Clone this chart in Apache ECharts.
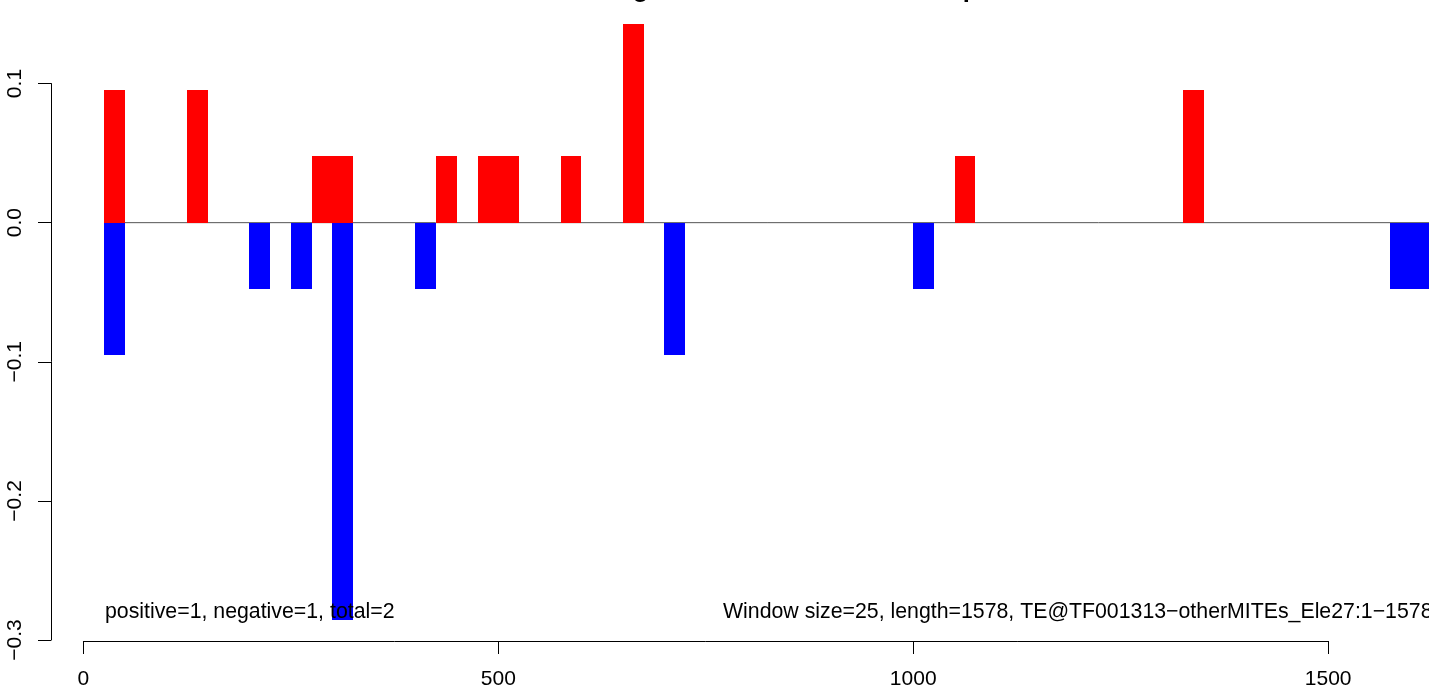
<!DOCTYPE html>
<html>
<head>
<meta charset="utf-8">
<script src="https://cdn.jsdelivr.net/npm/echarts@6/dist/echarts.min.js"></script>
<style>
html,body{margin:0;padding:0;background:#fff;overflow:hidden;}
#chart{width:1429px;height:690px;}
</style>
</head>
<body>
<div id="chart"></div>
<script>
// ---- data ----
var windowSize = 25;
var posStarts = [25, 125, 275, 300, 425, 475, 500, 575, 650, 1050, 1325];
var posValues = [0.0952, 0.0952, 0.0476, 0.0476, 0.0476, 0.0476, 0.0476, 0.0476, 0.1429, 0.0476, 0.0952];
var negStarts = [25, 200, 250, 300, 400, 700, 1000, 1575, 1600];
var negValues = [-0.0952, -0.0476, -0.0476, -0.2857, -0.0476, -0.0952, -0.0476, -0.0476, -0.0476];
var xTicks = [0, 500, 1000, 1500];
var yTicks = [-0.3, -0.2, -0.1, 0.0, 0.1];
var titleText = 'Seedling_miRNA_Col0_TE_Covmap';
var leftNote = 'positive=1, negative=1, total=2';
var rightNote = 'Window size=25, length=1578, TE@TF001313\u2212otherMITEs_Ele27:1\u22121578';

// ---- build ----
var FONT = "'Liberation Sans', Arial, Helvetica, sans-serif";
function rows(starts, vals){
  return starts.map(function(s, i){ return [s, s + windowSize, vals[i]]; });
}
var allStarts = posStarts.concat(negStarts);
var allVals = posValues.concat(negValues);
var dataXMin = Math.min.apply(null, allStarts);
var dataXMax = Math.max.apply(null, allStarts) + windowSize;
var dataYMin = Math.min.apply(null, allVals);
var dataYMax = Math.max.apply(null, allVals);
// R-style 4% padding of the plotting region
var padX = (dataXMax - dataXMin) * 0.04, padY = (dataYMax - dataYMin) * 0.04;
var xMin = dataXMin - padX, xMax = dataXMax + padX;
var yMin = dataYMin - padY, yMax = dataYMax + padY;

// full R plotting region is wider than the picture; keep only the visible part
var plotLeft = 51, plotTop = 0, plotFullW = 1434, plotH = 644, canvasW = 1429;
var plotW = canvasW - plotLeft;
var xMaxVisible = xMin + plotW / plotFullW * (xMax - xMin);
function px(x){ return plotLeft + (x - xMin) / (xMax - xMin) * plotFullW; }
function py(y){ return plotTop + (yMax - y) / (yMax - yMin) * plotH; }

function barRender(color){
  return function(params, api){
    var a = api.coord([api.value(0), 0]);
    var b = api.coord([api.value(1), api.value(2)]);
    var x0 = Math.round(a[0]), x1 = Math.round(b[0]);
    var y0 = Math.round(Math.min(a[1], b[1])), y1 = Math.round(Math.max(a[1], b[1]));
    return {
      type: 'rect',
      shape: {x: x0, y: y0, width: x1 - x0, height: y1 - y0},
      style: {fill: color}
    };
  };
}
function minusFmt(v){ return (Math.round(v * 10) / 10).toFixed(1).replace('-', '\u2212'); }
function plainFmt(v){ return String(Math.round(v)); }

var chart = echarts.init(document.getElementById('chart'), null, {renderer: 'canvas'});
chart.setOption({
  animation: false,
  backgroundColor: '#ffffff',
  grid: [
    {left: plotLeft, top: plotTop, width: plotW, height: plotH},
    {left: plotLeft, top: py(yTicks[yTicks.length - 1]), width: 10, height: py(yTicks[0]) - py(yTicks[yTicks.length - 1])},
    {left: px(xTicks[0]), top: plotTop, width: px(xTicks[xTicks.length - 1]) - px(xTicks[0]), height: plotH}
  ],
  xAxis: [
    {gridIndex: 0, type: 'value', min: xMin, max: xMaxVisible, show: false},
    {gridIndex: 1, type: 'value', min: 0, max: 1, show: false},
    {gridIndex: 2, type: 'value', position: 'bottom', min: xTicks[0], max: xTicks[xTicks.length - 1], interval: 500,
      axisLine: {show: true, lineStyle: {color: '#000', width: 1}},
      axisTick: {show: true, inside: false, length: 13, lineStyle: {color: '#000', width: 1}},
      axisLabel: {show: true, color: '#000', fontSize: 21, fontFamily: FONT, margin: 28, formatter: plainFmt, showMinLabel: true, showMaxLabel: true},
      splitLine: {show: false}}
  ],
  yAxis: [
    {gridIndex: 0, type: 'value', min: yMin, max: yMax, show: false},
    {gridIndex: 1, type: 'value', position: 'left', min: yTicks[0], max: yTicks[yTicks.length - 1], interval: 0.1,
      axisLine: {show: true, lineStyle: {color: '#000', width: 1}},
      axisTick: {show: true, inside: false, length: 13, lineStyle: {color: '#000', width: 1}},
      axisLabel: {show: true, rotate: 90, color: '#000', fontSize: 21, fontFamily: FONT, margin: 25, formatter: minusFmt, showMinLabel: true, showMaxLabel: true},
      splitLine: {show: false}},
    {gridIndex: 2, type: 'value', min: 0, max: 1, show: false}
  ],
  series: [
    {type: 'line', xAxisIndex: 0, yAxisIndex: 0, data: [[dataXMin, 0], [dataXMax, 0]], symbol: 'none',
      lineStyle: {color: '#555555', width: 1}, z: 1, silent: true},
    {type: 'custom', xAxisIndex: 0, yAxisIndex: 0, data: rows(posStarts, posValues), renderItem: barRender('#ff0000'), z: 2, silent: true},
    {type: 'custom', xAxisIndex: 0, yAxisIndex: 0, data: rows(negStarts, negValues), renderItem: barRender('#0000ff'), z: 2, silent: true}
  ],
  graphic: [
    {type: 'text', z: 100, style: {text: titleText, x: 542, y: -10.3, font: 'bold 25.5px ' + FONT, fill: '#000',
      align: 'left', verticalAlign: 'middle', textAlign: 'left', textVerticalAlign: 'middle'}},
    {type: 'text', z: 100, style: {text: leftNote, x: 105, y: 612.6, font: '21.3px ' + FONT, fill: '#000',
      align: 'left', verticalAlign: 'middle', textAlign: 'left', textVerticalAlign: 'middle'}},
    {type: 'text', z: 100, style: {text: rightNote, x: 723, y: 612.6, font: '21.3px ' + FONT, fill: '#000',
      align: 'left', verticalAlign: 'middle', textAlign: 'left', textVerticalAlign: 'middle'}}
  ]
});
</script>
</body>
</html>
